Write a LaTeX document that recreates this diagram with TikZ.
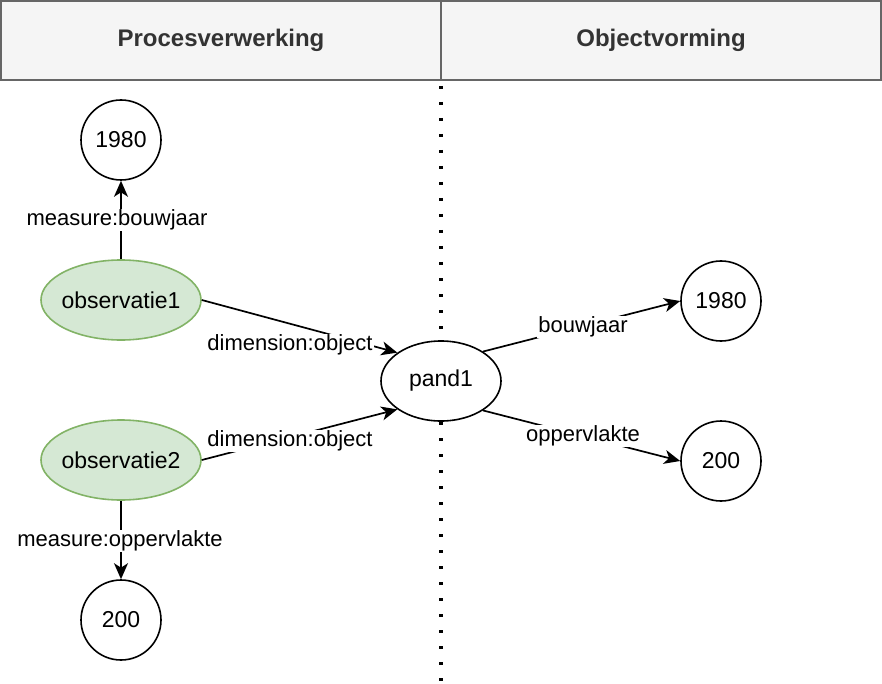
\documentclass[tikz,border=0pt]{standalone}
\usepackage{fontspec}
\setmainfont{Liberation Sans}
\usetikzlibrary{shapes.geometric,arrows.meta}
\definecolor{hdrfill}{HTML}{F5F5F5}
\definecolor{hdrline}{HTML}{666666}
\definecolor{hdrtext}{HTML}{333333}
\definecolor{obsfill}{HTML}{D5E8D4}
\definecolor{obsline}{HTML}{82B366}
\newcommand{\zw}[1]{\makebox[0pt]{#1}}
\tikzset{
  txt/.style={font=\fontsize{23}{27}\selectfont},
  hdr/.style={draw=hdrline, fill=hdrfill, line width=1.6pt, minimum width=440pt, minimum height=79pt, inner sep=0pt, text=hdrtext, font=\fontsize{24}{28}\selectfont\bfseries},
  valnode/.style={circle, draw, line width=1.6pt, fill=white, minimum size=80pt, inner sep=0pt, txt},
  obsnode/.style={ellipse, draw=obsline, fill=obsfill, line width=1.6pt, minimum width=160pt, minimum height=80pt, inner sep=0pt, txt},
  objnode/.style={ellipse, draw, fill=white, line width=1.6pt, minimum width=120pt, minimum height=80pt, inner sep=0pt, txt},
  edgelbl/.style={fill=white, inner sep=1pt, font=\fontsize{22}{26}\selectfont},
  link/.style={line width=1.7pt, -{Stealth[length=16pt,width=14pt,inset=4.5pt]}},
  divider/.style={line width=3.5pt, dash pattern=on 3pt off 13pt}
}
\begin{document}
\begin{tikzpicture}[x=1pt,y=-1pt]
\useasboundingbox (0,0) rectangle (882,684);
\coordinate (dtop) at (441,86);
\coordinate (dbot) at (441,684);
\draw[divider] (dtop) -- (dbot);
\node[hdr] (h1) at (221,40.5) {Procesverwerking};
\node[hdr] (h2) at (661,40.5) {Objectvorming};

\node[valnode] (v1980a) at (121,140) {\zw{1980}};
\node[obsnode] (obs1) at (121,300) {\zw{observatie1}};
\node[obsnode] (obs2) at (121,460) {\zw{observatie2}};
\node[valnode] (v200a) at (121,620) {\zw{200}};
\node[objnode] (pand) at (441,381) {\zw{pand1}};
\node[valnode] (v1980b) at (721,301) {\zw{1980}};
\node[valnode] (v200b) at (721,461) {\zw{200}};

\draw[link] (obs1) -- (v1980a);
\draw[link] (obs2) -- (v200a);
\draw[link] (obs1.east) -- (pand.147);
\draw[link] (obs2.east) -- (pand.213);
\draw[link] (pand.35) -- (v1980b.west);
\draw[link] (pand.-35) -- (v200b.west);

\node[edgelbl] (l1) at (117,220) {measure:bouwjaar};
\node[edgelbl] (l2) at (120,541) {measure:oppervlakte};
\node[edgelbl] (l3) at (290,345) {dimension:object};
\node[edgelbl] (l4) at (290,441) {dimension:object};
\node[edgelbl] (l5) at (583,327) {bouwjaar};
\node[edgelbl] (l6) at (583,436) {oppervlakte};
\end{tikzpicture}
\end{document}
